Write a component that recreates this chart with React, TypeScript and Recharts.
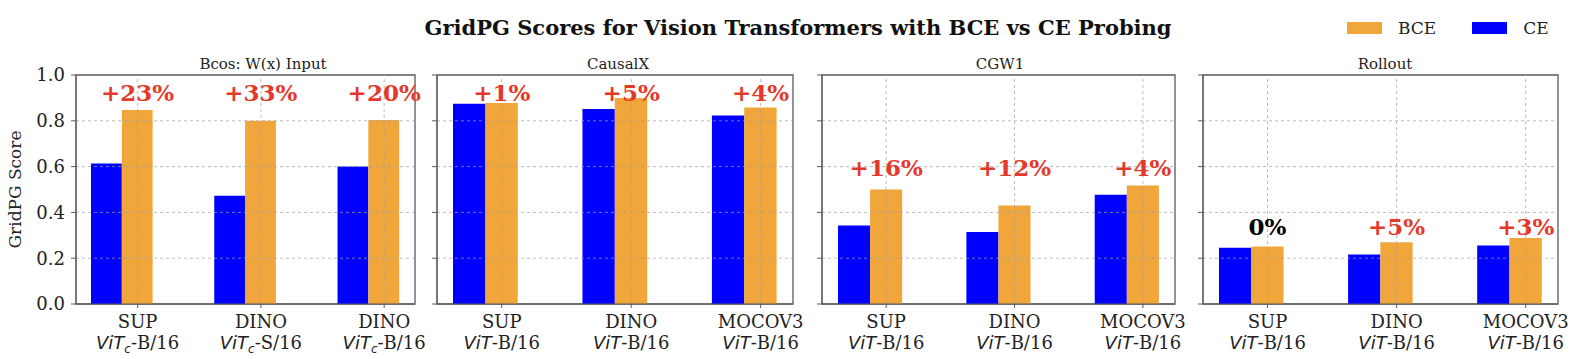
import {
  ComposedChart,
  Bar,
  XAxis,
  YAxis,
  ReferenceArea,
  ReferenceDot,
  ReferenceLine,
} from "recharts";

const SERIES_NAMES = ["BCE", "CE"];
const SERIES_COLORS = ["#F0A63B", "#0000FF"];

const PANEL_TITLES = ["Bcos: W(x) Input", "CausalX", "CGW1", "Rollout"];

const METHODS = [
  ["SUP", "DINO", "DINO"],
  ["SUP", "DINO", "MOCOV3"],
  ["SUP", "DINO", "MOCOV3"],
  ["SUP", "DINO", "MOCOV3"],
];
const BACKBONES = [
  ["B/16", "S/16", "B/16"],
  ["B/16", "B/16", "B/16"],
  ["B/16", "B/16", "B/16"],
  ["B/16", "B/16", "B/16"],
];
const ARCH_SUBSCRIPTS = ["c", "", "", ""];

const CE_SCORES = [
  [0.613, 0.473, 0.6],
  [0.875, 0.852, 0.823],
  [0.343, 0.314, 0.477],
  [0.246, 0.216, 0.255],
];
const BCE_SCORES = [
  [0.847, 0.8, 0.803],
  [0.878, 0.9, 0.858],
  [0.5, 0.43, 0.517],
  [0.251, 0.27, 0.288],
];
const GAIN_LABELS = [
  ["+23%", "+33%", "+20%"],
  ["+1%", "+5%", "+4%"],
  ["+16%", "+12%", "+4%"],
  ["0%", "+5%", "+3%"],
];
// height (in score units) where each panel's gain labels sit
const GAIN_LABEL_HEIGHTS = [0.921, 0.921, 0.594, 0.336];

const Y_TICKS = [0, 0.2, 0.4, 0.6, 0.8, 1.0];
const X_TICKS = [0, 1, 2];

// layout
const X_DOMAIN: [number, number] = [-0.5, 2.25];
const BAR_WIDTH = 0.25;
const PLOT_LEFTS = [76, 437, 822, 1203];
const PLOT_WIDTHS = [339, 356, 353, 355];
const TITLE_CENTERS = [263, 618, 1000, 1385];
const Y_AXIS_W = 76;
const RIGHT_PAD = 40;
const SPINE = "#5a5a5a";
const GRID = "rgba(160,160,160,0.7)";
const TEXT = "#222";
const SERIF = "'DejaVu Serif', serif";

function XTick({ x, y, payload, panel }: any) {
  const i = payload.value;
  const sub = ARCH_SUBSCRIPTS[panel];
  return (
    <text x={x} y={y} textAnchor="middle" fontFamily={SERIF} fontSize={18} fill={TEXT}>
      <tspan x={x} dy={18}>
        {METHODS[panel][i]}
      </tspan>
      <tspan x={x} dy={21}>
        <tspan fontFamily="'DejaVu Sans', sans-serif" fontStyle="italic">
          ViT
        </tspan>
        {sub && (
          <tspan fontFamily="'DejaVu Sans', sans-serif" fontStyle="italic" fontSize={12} dy={4}>
            {sub}
          </tspan>
        )}
        <tspan dy={sub ? -4 : 0}>-{BACKBONES[panel][i]}</tspan>
      </tspan>
    </text>
  );
}

function GainLabel({ viewBox, text }: any) {
  if (!viewBox) return null;
  const cx = viewBox.x + (viewBox.width || 0) / 2;
  const cy = viewBox.y + (viewBox.height || 0) / 2;
  return (
    <text
      x={cx}
      y={cy}
      dy="0.36em"
      textAnchor="middle"
      fontFamily={SERIF}
      fontWeight="bold"
      fontSize={23}
      fill={text.startsWith("+") ? "#E5382A" : "#000"}
    >
      {text}
    </text>
  );
}

function Panel({ panel }: { panel: number }) {
  const data = METHODS[panel].map((_, i) => ({
    x: i,
    ce: CE_SCORES[panel][i],
    bce: BCE_SCORES[panel][i],
    pad: 0,
  }));
  const plotW = PLOT_WIDTHS[panel];
  const barSize = (plotW * BAR_WIDTH) / (X_DOMAIN[1] - X_DOMAIN[0]);
  const first = panel === 0;

  return (
    <div style={{ position: "absolute", left: PLOT_LEFTS[panel] - Y_AXIS_W, top: 0 }}>
      <ComposedChart
        width={Y_AXIS_W + plotW + RIGHT_PAD}
        height={359}
        data={data}
        margin={{ top: 75, right: RIGHT_PAD, left: 0, bottom: 5 }}
        barGap={0}
        barSize={barSize}
      >
        <XAxis
          type="number"
          dataKey="x"
          domain={X_DOMAIN}
          ticks={X_TICKS}
          allowDataOverflow
          height={50}
          stroke={SPINE}
          tickSize={4}
          tickMargin={2}
          tick={<XTick panel={panel} />}
        />
        <YAxis
          type="number"
          domain={[0, 1]}
          ticks={Y_TICKS}
          width={Y_AXIS_W}
          stroke={SPINE}
          tickSize={5}
          tickMargin={6}
          tick={first ? { fontFamily: SERIF, fontSize: 18, fill: TEXT } : () => <g />}
          tickFormatter={(v: number) => v.toFixed(1)}
          label={
            first
              ? {
                  content: ({ viewBox }: any) => (
                    <text
                      x={15}
                      y={viewBox.y + viewBox.height / 2}
                      transform={`rotate(-90 15 ${viewBox.y + viewBox.height / 2})`}
                      textAnchor="middle"
                      dominantBaseline="central"
                      fontFamily={SERIF}
                      fontSize={17}
                      fill={TEXT}
                    >
                      GridPG Score
                    </text>
                  ),
                }
              : undefined
          }
        />
        <Bar dataKey="ce" name="CE" fill={SERIES_COLORS[1]} isAnimationActive={false} />
        <Bar dataKey="bce" name="BCE" fill={SERIES_COLORS[0]} isAnimationActive={false} />
        <Bar dataKey="pad" fill="none" isAnimationActive={false} />
        {Y_TICKS.slice(1, -1).map((t) => (
          <ReferenceLine key={`h${t}`} y={t} stroke={GRID} strokeDasharray="3 3" />
        ))}
        {X_TICKS.map((t) => (
          <ReferenceLine key={`v${t}`} x={t} stroke={GRID} strokeDasharray="3 3" />
        ))}
        <ReferenceArea
          x1={X_DOMAIN[0]}
          x2={X_DOMAIN[1]}
          y1={0}
          y2={1}
          fill="none"
          stroke={SPINE}
          strokeWidth={1.3}
          ifOverflow="visible"
        />
        {GAIN_LABELS[panel].map((g, i) => (
          <ReferenceDot
            key={i}
            x={i}
            y={GAIN_LABEL_HEIGHTS[panel]}
            r={0}
            fill="none"
            stroke="none"
            label={<GainLabel text={g} />}
          />
        ))}
      </ComposedChart>
      <div
        style={{
          position: "absolute",
          top: 55,
          left: TITLE_CENTERS[panel] - PLOT_LEFTS[panel] + Y_AXIS_W,
          transform: "translateX(-50%)",
          fontFamily: SERIF,
          fontSize: 15,
          color: TEXT,
          whiteSpace: "nowrap",
          lineHeight: "18px",
        }}
      >
        {PANEL_TITLES[panel]}
      </div>
    </div>
  );
}

export default function App() {
  return (
    <div
      style={{
        position: "absolute",
        left: 0,
        top: 0,
        width: 1578,
        height: 359,
        background: "#fff",
        fontFamily: SERIF,
        overflow: "hidden",
      }}
    >
      <div
        style={{
          position: "absolute",
          top: 15,
          left: 798,
          transform: "translateX(-50%)",
          fontWeight: "bold",
          fontSize: 21,
          lineHeight: "26px",
          color: "#111",
          whiteSpace: "nowrap",
        }}
      >
        GridPG Scores for Vision Transformers with BCE vs CE Probing
      </div>
      <div
        style={{
          position: "absolute",
          top: 17,
          left: 1347,
          display: "flex",
          alignItems: "center",
          fontSize: 17,
          lineHeight: "22px",
          color: TEXT,
        }}
      >
        {SERIES_NAMES.map((name, i) => (
          <div key={name} style={{ display: "flex", alignItems: "center", marginRight: 36 }}>
            <span
              style={{
                display: "inline-block",
                width: 35,
                height: 12,
                background: SERIES_COLORS[i],
                marginRight: 16,
              }}
            />
            {name}
          </div>
        ))}
      </div>
      {PANEL_TITLES.map((_, p) => (
        <Panel key={p} panel={p} />
      ))}
    </div>
  );
}
